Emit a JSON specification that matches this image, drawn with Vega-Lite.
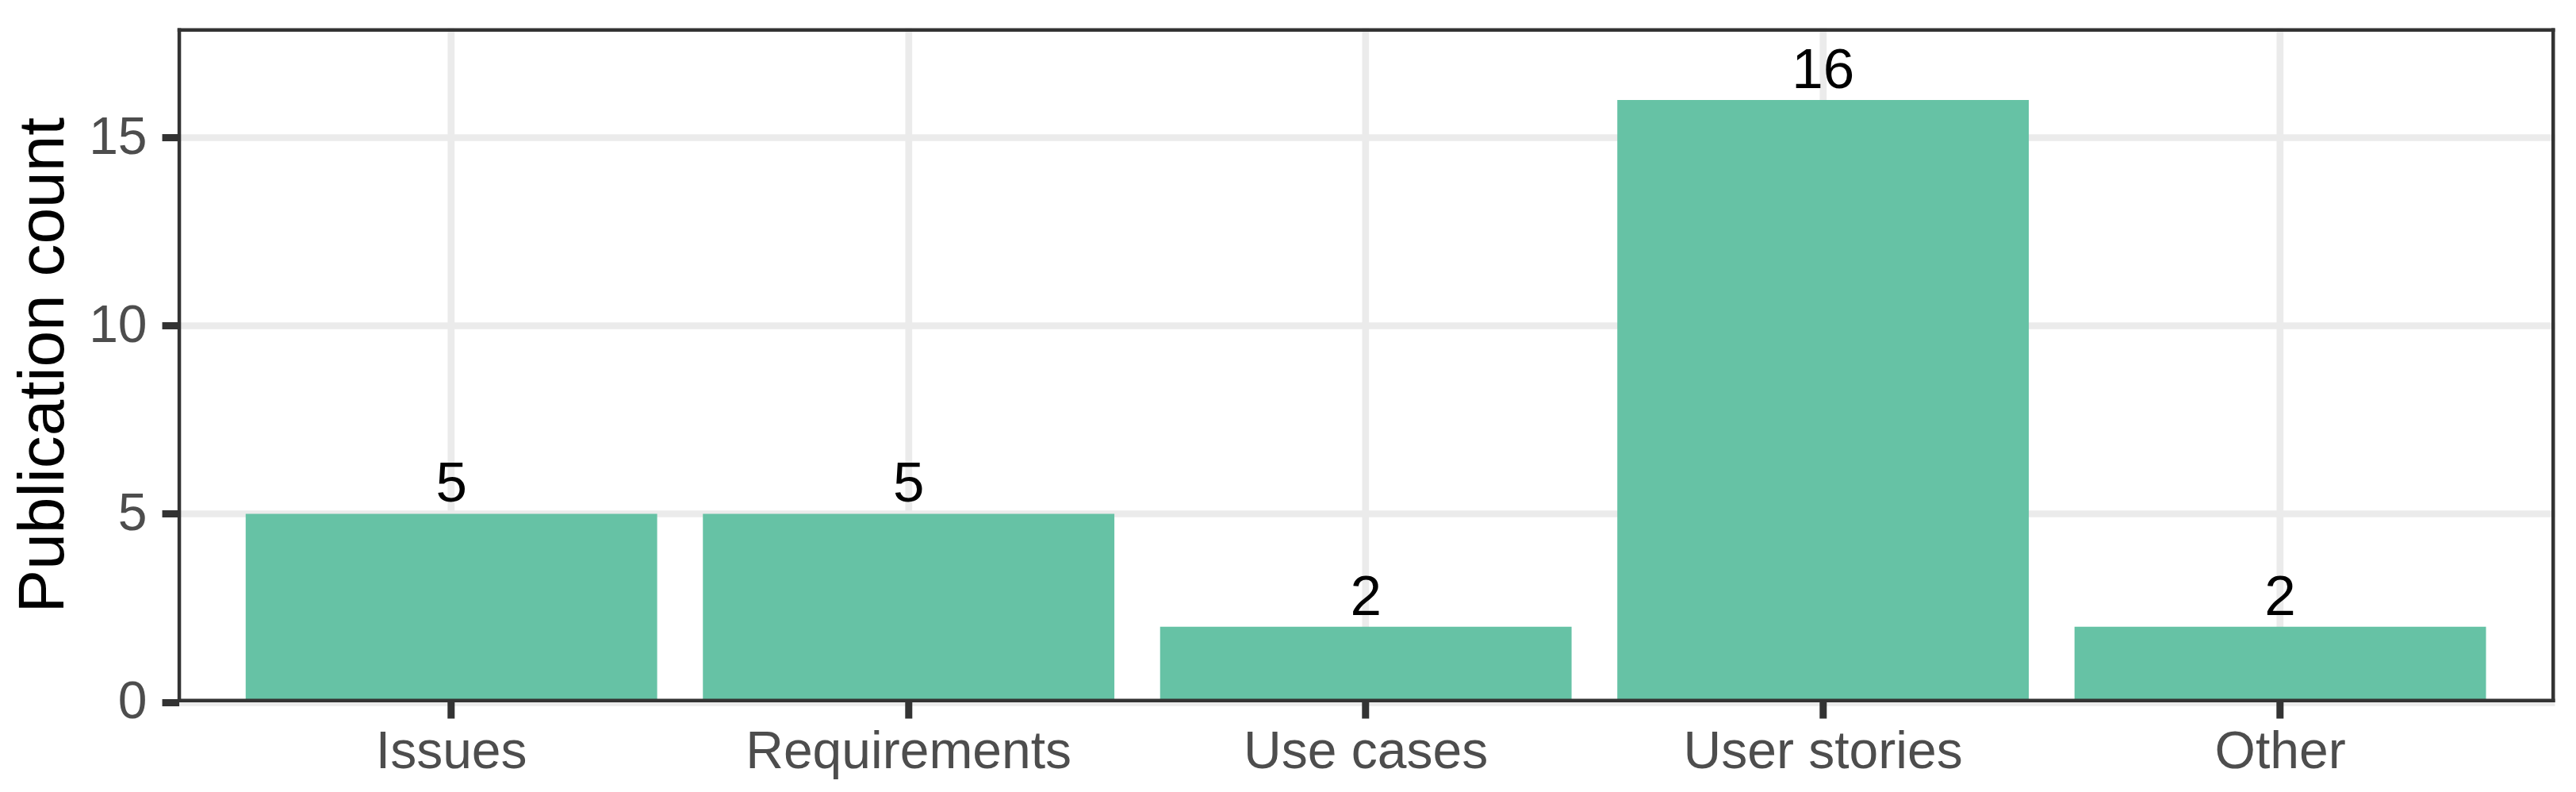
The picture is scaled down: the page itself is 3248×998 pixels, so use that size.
{
  "$schema": "https://vega.github.io/schema/vega-lite/v6.json",
  "width": 2997.7,
  "height": 849.5,
  "autosize": {"type": "none"},
  "padding": {"left": 223.3, "top": 35, "right": 27, "bottom": 113.5},
  "background": "white",
  "config": {"view": {"stroke": null}, "font": "Liberation Sans"},
  "data": {
    "values": [
      {"Type": "Issues", "Count": 5},
      {"Type": "Requirements", "Count": 5},
      {"Type": "Use cases", "Count": 2},
      {"Type": "User stories", "Count": 16},
      {"Type": "Other", "Count": 2}
    ]
  },
  "resolve": {"axis": {"x": "independent", "y": "independent"}},
  "layer": [
    {
      "mark": {"type": "bar", "color": "#66C2A5"},
      "encoding": {
        "x": {
          "field": "Type", "type": "nominal", "sort": null,
          "scale": {"type": "band", "domain": ["Issues", "Requirements", "Use cases", "User stories", "Other"], "paddingInner": 0.1, "paddingOuter": 0.15},
          "axis": {"orient": "bottom", "grid": true, "gridColor": "#EBEBEB", "gridWidth": 8.7, "domain": false, "ticks": false, "labels": false, "title": null, "bandPosition": 0.5, "zindex": 0}
        },
        "y": {
          "field": "Count", "type": "quantitative",
          "scale": {"domain": [0, 17.92], "nice": false, "zero": true},
          "axis": {"orient": "left", "grid": true, "gridColor": "#EBEBEB", "gridWidth": 8.7, "values": [0, 5, 10, 15], "domain": false, "ticks": false, "labels": false, "title": null, "zindex": 0}
        }
      }
    },
    {
      "mark": {"type": "text", "baseline": "alphabetic", "dy": -15, "fontSize": 71, "color": "black", "font": "Liberation Sans"},
      "encoding": {
        "x": {
          "field": "Type", "type": "nominal", "sort": null,
          "scale": {"type": "band", "domain": ["Issues", "Requirements", "Use cases", "User stories", "Other"], "paddingInner": 0.1, "paddingOuter": 0.15},
          "axis": {"orient": "bottom", "grid": false, "domain": true, "domainColor": "#333333", "domainWidth": 4.5, "offset": -2.25, "ticks": true, "tickColor": "#333333", "tickWidth": 9, "tickSize": 22.75, "labels": true, "labelFont": "Liberation Sans", "labelFontSize": 66, "labelColor": "#4D4D4D", "labelPadding": 10, "labelAngle": 0, "labelLimit": 0, "labelOverlap": false, "title": null, "bandPosition": 0.5, "zindex": 1}
        },
        "y": {
          "field": "Count", "type": "quantitative",
          "scale": {"domain": [0, 17.92], "nice": false, "zero": true},
          "axis": {"orient": "left", "grid": false, "values": [0, 5, 10, 15], "domain": true, "domainColor": "#333333", "domainWidth": 4.5, "offset": -2.25, "ticks": true, "tickColor": "#333333", "tickWidth": 9, "tickSize": 21.5, "labels": true, "labelFont": "Liberation Sans", "labelFontSize": 66, "labelColor": "#4D4D4D", "labelPadding": 19, "labelFlush": false, "labelLimit": 0, "title": "Publication count", "titleFont": "Liberation Sans", "titleFontSize": 82, "titleFontWeight": "normal", "titleColor": "black", "titlePadding": 15, "zindex": 1}
        },
        "text": {"field": "Count", "type": "quantitative"}
      }
    },
    {
      "mark": {"type": "bar", "opacity": 0},
      "encoding": {
        "x": {
          "field": "Type", "type": "nominal", "sort": null,
          "scale": {"type": "band", "domain": ["Issues", "Requirements", "Use cases", "User stories", "Other"], "paddingInner": 0.1, "paddingOuter": 0.15},
          "axis": {"orient": "top", "grid": false, "domain": true, "domainColor": "#333333", "domainWidth": 4.5, "offset": -2.25, "ticks": false, "labels": false, "title": null, "zindex": 1}
        },
        "y": {
          "field": "Count", "type": "quantitative",
          "scale": {"domain": [0, 17.92], "nice": false, "zero": true},
          "axis": {"orient": "right", "grid": false, "domain": true, "domainColor": "#333333", "domainWidth": 4.5, "offset": -2.25, "ticks": false, "labels": false, "title": null, "zindex": 1}
        }
      }
    }
  ]
}
